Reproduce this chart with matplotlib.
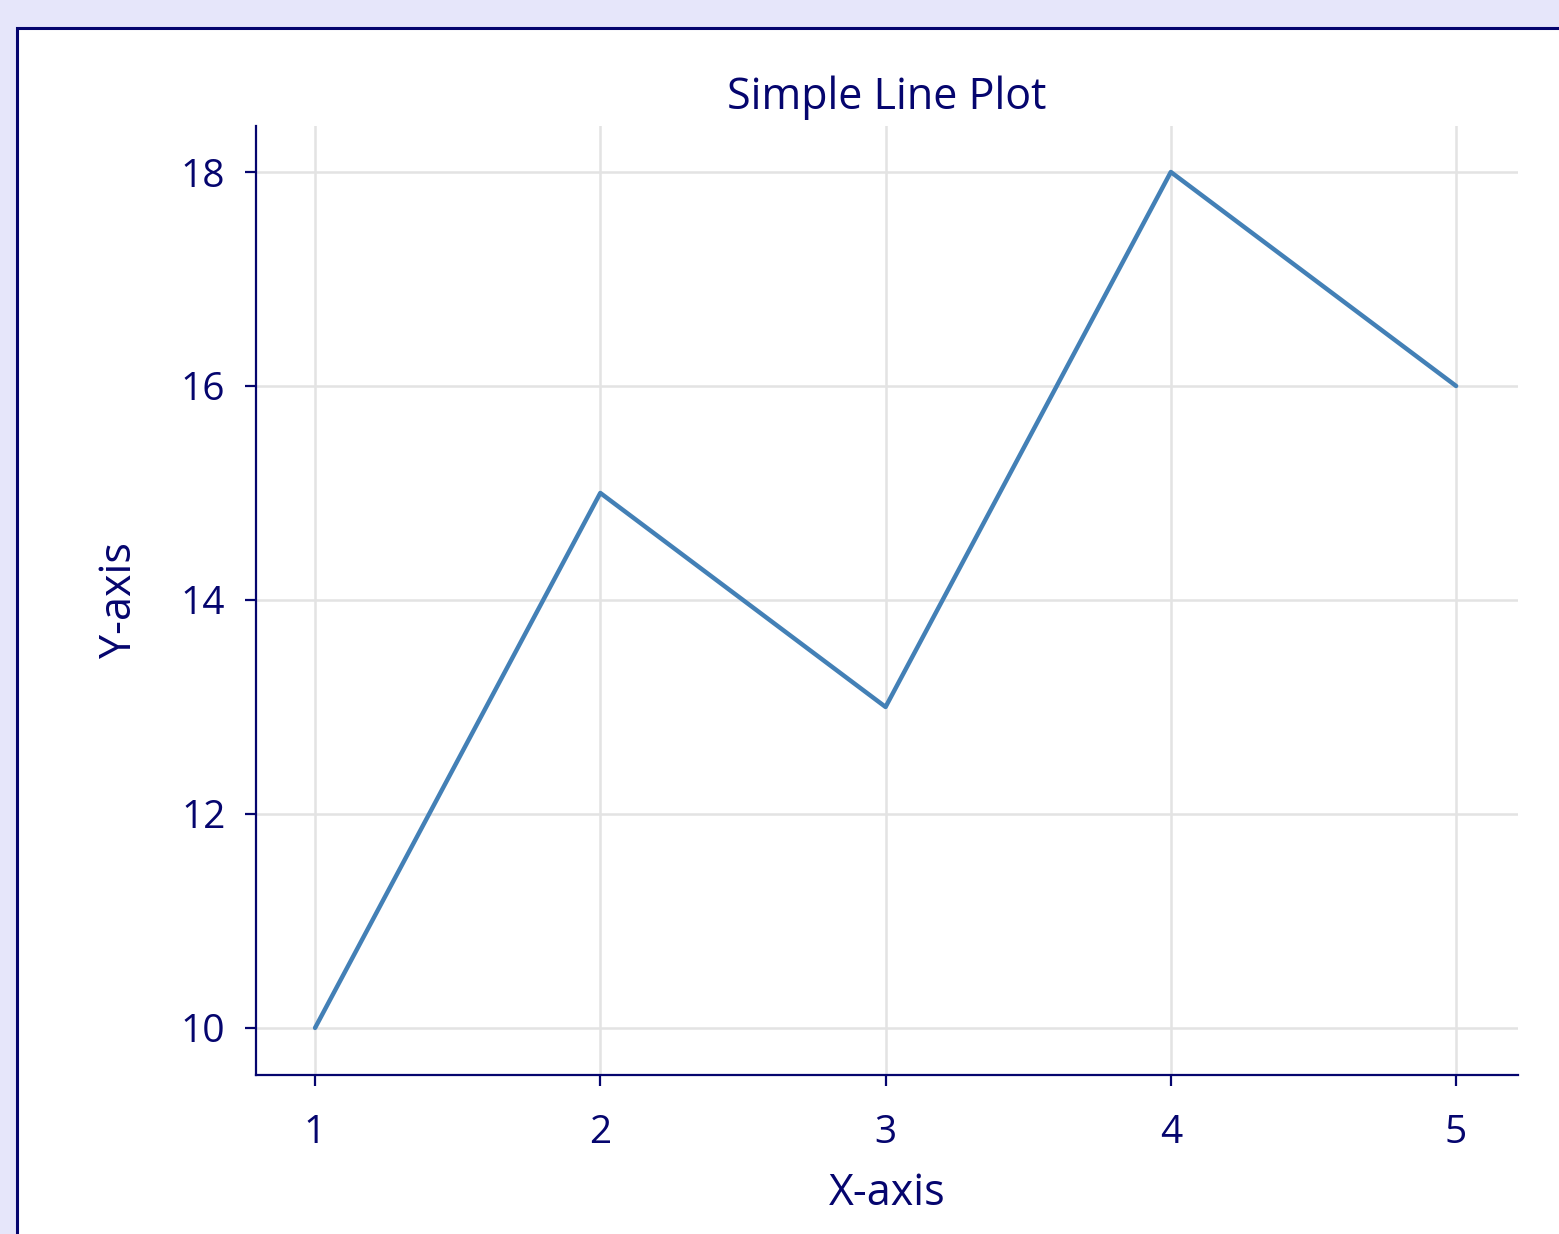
import matplotlib.pyplot as plt
from matplotlib.patches import Rectangle

# datos del grafico
x_vals = [1, 2, 3, 4, 5]
y_vals = [10, 15, 13, 18, 16]
y_ticks = [10, 12, 14, 16, 18]
titulo = "Simple Line Plot"
etiqueta_x = "X-axis"
etiqueta_y = "Y-axis"

color_texto = "#05056e"
color_linea = "#4380b6"

plt.rcParams['font.family'] = ['Open Sans', 'DejaVu Sans']

fig = plt.figure(figsize=(1559 / 200, 1234 / 200), dpi=200)
fig.patch.set_facecolor("#e6e6fa")

# panel blanco con borde (detras de los ejes)
panel = Rectangle((17 / 1559, -0.05), 1.2, 1 - 28 / 1234 + 0.05,
                  transform=fig.transFigure, facecolor="white",
                  edgecolor=color_texto, linewidth=1.1, zorder=-10)
fig.patches.append(panel)

ax = fig.add_axes([256 / 1559, 1 - 1075 / 1234, (1518 - 256) / 1559, (1075 - 126) / 1234])
ax.set_facecolor("none")
ax.set_zorder(5)

ax.plot(x_vals, y_vals, color=color_linea, linewidth=1.6, solid_capstyle='round')

ax.set_xticks(x_vals)
ax.set_yticks(y_ticks)
ax.set_xlim(0.793, 5.217)
ax.set_ylim(9.56, 18.43)
ax.grid(True, color="#e3e3e3", linewidth=0.9)
ax.set_axisbelow(True)

for lado in ['top', 'right']:
    ax.spines[lado].set_visible(False)
for lado in ['left', 'bottom']:
    ax.spines[lado].set_color(color_texto)
    ax.spines[lado].set_linewidth(0.8)

ax.tick_params(colors=color_texto, labelsize=14, length=4, width=0.8)
ax.tick_params(axis='x', pad=10)
ax.tick_params(axis='y', pad=7)

ax.set_title(titulo, color=color_texto, fontsize=15.5, pad=6)
ax.set_xlabel(etiqueta_x, color=color_texto, fontsize=15.5, labelpad=7)
ax.set_ylabel(etiqueta_y, color=color_texto, fontsize=15.5, labelpad=14)

fig.savefig("out.png", dpi=200, facecolor=fig.get_facecolor())
